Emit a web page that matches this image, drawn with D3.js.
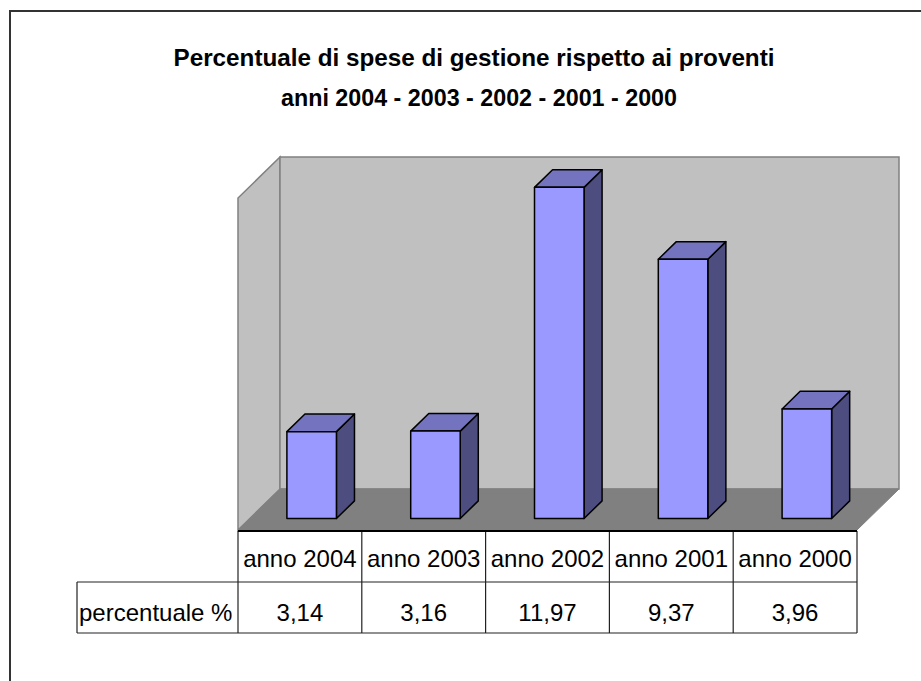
<!DOCTYPE html>
<html lang="it">
<head>
<meta charset="utf-8">
<title>Percentuale di spese di gestione</title>
<script src="https://cdn.jsdelivr.net/npm/d3@7"></script>
<style>
 body { margin: 0; background: #fff; }
 text { font-family: "Liberation Sans", Arial, sans-serif; }
</style>
</head>
<body>
<script>
// Data
const categories = ['anno 2004', 'anno 2003', 'anno 2002', 'anno 2001', 'anno 2000'];
const values = [3.14, 3.16, 11.97, 9.37, 3.96];
const seriesName = 'percentuale %';
const titleLines = ['Percentuale di spese di gestione rispetto ai proventi',
                    'anni 2004 - 2003 - 2002 - 2001 - 2000'];
const yDomain = [0, 12];

// Layout
const W = 921, H = 681;
const plot = {left: 238, right: 857, bottom: 530, top: 198};
const depth = {dx: 42, dy: -41};
const barDepth = [0.28, 0.71];
const rowH = 51;

const svg = d3.select('body').append('svg')
  .attr('width', W).attr('height', H);

// outer frame
svg.append('rect')
  .attr('x', 10).attr('y', 11)
  .attr('width', 1000).attr('height', 1000)
  .style('fill', 'none').style('stroke', '#333').style('stroke-width', 2);

// title
const titlePos = [{x: 474, w: 601}, {x: 479, w: 396}];
svg.selectAll('.title')
  .data(titleLines)
  .enter().append('text')
  .attr('class', 'title')
  .attr('x', (d, i) => titlePos[i].x)
  .attr('y', (d, i) => 66 + i * 40)
  .attr('text-anchor', 'middle')
  .style('font-size', '24px')
  .style('font-weight', 'bold')
  .attr('textLength', (d, i) => titlePos[i].w)
  .attr('lengthAdjust', 'spacingAndGlyphs')
  .text(d => d);

// scales
const x = d3.scaleBand()
  .domain(categories)
  .range([plot.left, plot.right])
  .paddingInner(0.6)
  .paddingOuter(0.3);

const y = d3.scaleLinear()
  .domain(yDomain)
  .range([plot.bottom, plot.top]);

const line = d3.line();
const pt = (px, py, f) => [px + f * depth.dx, py + f * depth.dy];

// side wall
svg.append('path')
  .attr('d', line([pt(plot.left, y(0), 0), pt(plot.left, y(yDomain[1]), 0),
                   pt(plot.left, y(yDomain[1]), 1), pt(plot.left, y(0), 1)]) + 'Z')
  .style('fill', '#c0c0c0').style('stroke', '#808080').style('stroke-width', 1.5);

// back wall
svg.append('path')
  .attr('d', line([pt(plot.left, y(0), 1), pt(plot.left, y(yDomain[1]), 1),
                   pt(plot.right, y(yDomain[1]), 1), pt(plot.right, y(0), 1)]) + 'Z')
  .style('fill', '#c0c0c0').style('stroke', '#808080').style('stroke-width', 1.5);

// floor
svg.append('path')
  .attr('d', line([pt(plot.left, y(0), 0), pt(plot.left, y(0), 1),
                   pt(plot.right, y(0), 1), pt(plot.right, y(0), 0)]) + 'Z')
  .style('fill', '#808080').style('stroke', '#808080').style('stroke-width', 1);

// bars
const bars = svg.selectAll('.bar')
  .data(values)
  .enter().append('g')
  .attr('class', 'bar');

const f0 = barDepth[0], f1 = barDepth[1];

bars.append('path') // side
  .attr('d', (d, i) => {
    const xr = x(categories[i]) + x.bandwidth();
    return line([pt(xr, y(0), f0), pt(xr, y(d), f0), pt(xr, y(d), f1), pt(xr, y(0), f1)]) + 'Z';
  })
  .style('fill', '#4d4d80').style('stroke', '#000').style('stroke-width', 1.5)
  .style('stroke-linejoin', 'round');

bars.append('path') // top
  .attr('d', (d, i) => {
    const xl = x(categories[i]), xr = xl + x.bandwidth();
    return line([pt(xl, y(d), f0), pt(xl, y(d), f1), pt(xr, y(d), f1), pt(xr, y(d), f0)]) + 'Z';
  })
  .style('fill', '#7373bf').style('stroke', '#000').style('stroke-width', 1.5)
  .style('stroke-linejoin', 'round');

bars.append('path') // front
  .attr('d', (d, i) => {
    const xl = x(categories[i]), xr = xl + x.bandwidth();
    return line([pt(xl, y(0), f0), pt(xl, y(d), f0), pt(xr, y(d), f0), pt(xr, y(0), f0)]) + 'Z';
  })
  .style('fill', '#9999ff').style('stroke', '#000').style('stroke-width', 1.5)
  .style('stroke-linejoin', 'round');

// data table
const it = d3.formatLocale({decimal: ',', thousands: '.', grouping: [3], currency: ['', '']});
const fmt = it.format('.2f');
const step = x.step();
const colX = i => plot.left + i * step;
const row1 = plot.bottom + 1, row2 = row1 + rowH, row3 = row2 + rowH;
const labelLeft = 77;

const table = svg.append('g')
  .style('stroke', '#222').style('stroke-width', 1.2);

// column lines
table.selectAll('.col')
  .data(d3.range(categories.length + 1))
  .enter().append('line')
  .attr('x1', colX).attr('x2', colX)
  .attr('y1', row1).attr('y2', row3);

table.append('line').attr('x1', labelLeft).attr('x2', labelLeft).attr('y1', row2).attr('y2', row3);
table.append('line').attr('x1', labelLeft).attr('x2', plot.right).attr('y1', row2).attr('y2', row2);
table.append('line').attr('x1', labelLeft).attr('x2', plot.right).attr('y1', row3).attr('y2', row3);
table.append('line').attr('x1', plot.left).attr('x2', plot.right).attr('y1', row1).attr('y2', row1)
  .style('stroke', '#000').style('stroke-width', 2);

svg.selectAll('.cat')
  .data(categories)
  .enter().append('text')
  .attr('x', (d, i) => colX(i) + step / 2)
  .attr('y', row1 + 36)
  .attr('text-anchor', 'middle')
  .style('font-size', '24px')
  .text(d => d);

svg.selectAll('.val')
  .data(values)
  .enter().append('text')
  .attr('x', (d, i) => colX(i) + step / 2)
  .attr('y', row2 + 39)
  .attr('text-anchor', 'middle')
  .style('font-size', '24px')
  .text(d => fmt(d));

svg.append('text')
  .attr('x', labelLeft + 2)
  .attr('y', row2 + 39)
  .style('font-size', '24px')
  .text(seriesName);
</script>
</body>
</html>
